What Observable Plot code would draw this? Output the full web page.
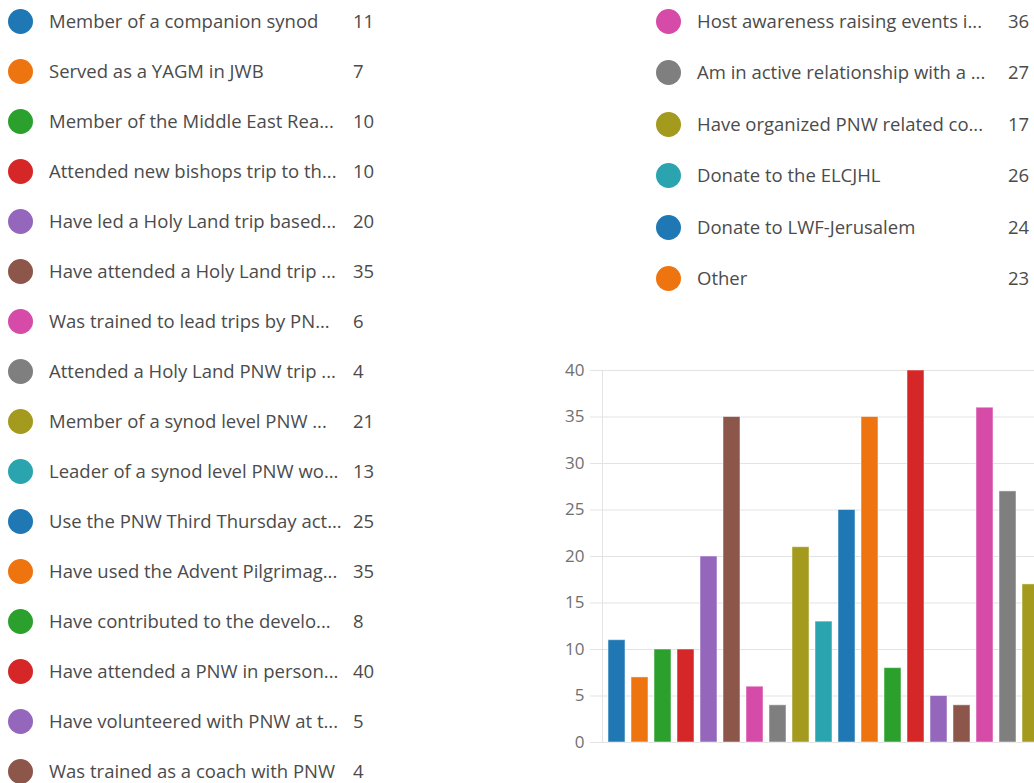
<!DOCTYPE html>
<html>
<head>
<meta charset="utf-8">
<script src="https://cdn.jsdelivr.net/npm/d3@7"></script>
<script src="https://cdn.jsdelivr.net/npm/@observablehq/plot@0.6"></script>
<style>
  html, body { margin: 0; padding: 0; background: #fff; overflow: hidden; width: 1034px; height: 783px; }
  #page { position: relative; width: 1034px; height: 783px; overflow: hidden; font-family: "Open Sans", "Noto Sans", sans-serif; color: #4b4b4b; }
  .item { position: absolute; height: 26px; line-height: 26px; font-size: 18.5px; white-space: nowrap; }
  .dot { position: absolute; width: 25px; height: 25px; border-radius: 50%; top: 0; }
  .lab { position: absolute; top: -1px; }
  .val { position: absolute; top: -1px; }
  #chart { position: absolute; left: 538px; top: 350px; width: 600px; }
  #chart svg { max-width: none !important; }
</style>
</head>
<body>
<div id="page">
  <div id="legend"></div>
  <div id="chart"></div>
</div>
<script>
const labels = [
  "Member of a companion synod",
  "Served as a YAGM in JWB",
  "Member of the Middle East Rea...",
  "Attended new bishops trip to th...",
  "Have led a Holy Land trip based...",
  "Have attended a Holy Land trip ...",
  "Was trained to lead trips by PN...",
  "Attended a Holy Land PNW trip ...",
  "Member of a synod level PNW ...",
  "Leader of a synod level PNW wo...",
  "Use the PNW Third Thursday act...",
  "Have used the Advent Pilgrimag...",
  "Have contributed to the develo...",
  "Have attended a PNW in person...",
  "Have volunteered with PNW at t...",
  "Was trained as a coach with PNW",
  "Host awareness raising events i...",
  "Am in active relationship with a ...",
  "Have organized PNW related co...",
  "Donate to the ELCJHL",
  "Donate to LWF-Jerusalem",
  "Other"
];
const values = [11, 7, 10, 10, 20, 35, 6, 4, 21, 13, 25, 35, 8, 40, 5, 4, 36, 27, 17, 26, 24, 23];
const palette = ["#1f77b4", "#ee7410", "#2ca02c", "#d62728", "#9467bd", "#8c564b", "#d64aa8", "#7f7f7f", "#a39a1e", "#2aa4ae"];
const yTicks = [0, 5, 10, 15, 20, 25, 30, 35, 40];

const rows = labels.map((label, i) => ({label, value: values[i], color: palette[i % palette.length], key: String(i)}));

// Legend (HTML)
const legend = document.getElementById("legend");
rows.forEach((r, i) => {
  const left = i < 16;
  const idx = left ? i : i - 16;
  const cy = left ? 22 + 50 * idx : 22 + 51.4 * idx;
  const x0 = left ? 8 : 656;
  const item = document.createElement("div");
  item.className = "item";
  item.style.left = x0 + "px";
  item.style.top = (cy - 13) + "px";
  item.innerHTML = `<div class="dot" style="left:0;background:${r.color}"></div>` +
    `<span class="lab" style="left:${41}px">${r.label}</span>` +
    `<span class="val" style="left:${left ? 345 : 352}px">${r.value}</span>`;
  legend.appendChild(item);
});

// Bar chart
const chart = Plot.plot({
  width: 590,
  height: 412,
  marginLeft: 64,
  marginRight: 14,
  marginTop: 20,
  marginBottom: 20,
  style: {fontFamily: "'Open Sans', 'Noto Sans', sans-serif", fontSize: "17px", color: "#666", background: "transparent", maxWidth: "none"},
  x: {domain: rows.map(d => d.key), paddingInner: 0.25, paddingOuter: 0.2, axis: null},
  y: {domain: [0, 40], ticks: yTicks},
  color: {type: "identity"},
  marks: [
    Plot.gridY(yTicks, {stroke: "#e3e3e3", strokeOpacity: 1}),
    Plot.axisY(yTicks, {tickSize: 12, stroke: "#e3e3e3", strokeOpacity: 1, tickPadding: 6, fill: "#707070", fontSize: 17, label: null}),
    Plot.frame({anchor: "left", stroke: "#e3e3e3", strokeOpacity: 1}),
    Plot.barY(rows, {x: "key", y: "value", fill: "color", stroke: "#ffffff", strokeOpacity: 0.5, strokeWidth: 1})
  ]
});
document.getElementById("chart").appendChild(chart);
</script>
</body>
</html>
